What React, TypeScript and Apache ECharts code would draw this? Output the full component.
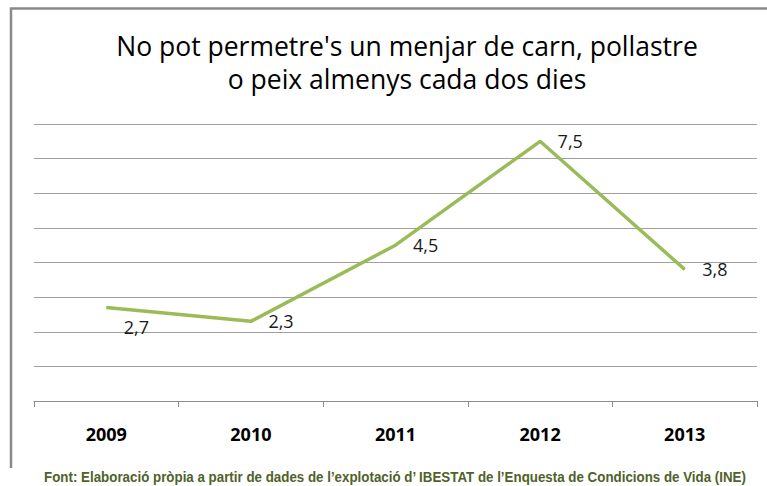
import React, { useEffect, useRef } from "react";
import * as echarts from "echarts";

const years = ["2009", "2010", "2011", "2012", "2013"];
const values = [2.7, 2.3, 4.5, 7.5, 3.8];
const titleLines = ["No pot permetre's un menjar de carn, pollastre", "o peix almenys cada dos dies"];
const footer = "Font: Elaboració pròpia a partir de dades de l’explotació d’ IBESTAT de l’Enquesta de Condicions de Vida (INE)";

export default function App() {
  const ref = useRef<HTMLDivElement>(null);
  useEffect(() => {
    const chart = echarts.init(ref.current!, null, { renderer: "svg" });
    chart.setOption({
      animation: false,
      backgroundColor: "#ffffff",
      title: {
        text: titleLines.join("\n"),
        left: 402,
        textAlign: "center",
        top: 24,
        textStyle: {
          fontFamily: "Open Sans",
          fontWeight: "normal",
          fontSize: 26.5,
          lineHeight: 33,
          color: "#000000",
        },
      },
      grid: { left: 34, right: 10, top: 124, bottom: 85 },
      xAxis: {
        type: "category",
        data: years,
        boundaryGap: true,
        axisLine: { lineStyle: { color: "#8c8c8c", width: 1 } },
        axisTick: { show: true, length: 6, lineStyle: { color: "#8c8c8c" } },
        axisLabel: {
          margin: 24,
          fontFamily: "Open Sans",
          fontWeight: "bold",
          fontSize: 18,
          color: "#000000",
        },
      },
      yAxis: {
        type: "value",
        min: 0,
        max: 8,
        interval: 1,
        axisLine: { show: false },
        axisTick: { show: false },
        axisLabel: { show: false },
        splitLine: { lineStyle: { color: "#a0a0a0", width: 1 } },
      },
      series: [
        {
          type: "line",
          data: values.map((v, i) => ({
            value: v,
            label: i === 0 ? { offset: [0, 19] } : undefined,
          })),
          showSymbol: true,
          symbol: "circle",
          symbolSize: 1,
          itemStyle: { color: "#9bbb59" },
          lineStyle: { color: "#9bbb59", width: 3.5 },
          label: {
            show: true,
            position: "right",
            distance: 17,
            formatter: (p: any) => String(p.value).replace(".", ","),
            fontFamily: "Open Sans",
            fontSize: 18,
            color: "#1a1a1a",
          },
        },
      ],
      graphic: [
        {
          type: "polyline",
          shape: { points: [[11, 468], [11, 8.5], [767, 8.5]] },
          style: { stroke: "#8a8a8a", lineWidth: 2.5, fill: "none" },
        },
        {
          type: "text",
          x: 395,
          y: 477,
          scaleX: 0.89,
          style: {
            text: footer,
            align: "center",
            verticalAlign: "middle",
            fontFamily: "Liberation Sans",
            fontWeight: "bold",
            fontSize: 15,
            fill: "#4f6228",
          },
        },
      ],
    });
    return () => chart.dispose();
  }, []);
  return <div ref={ref} style={{ width: 767, height: 486, position: "absolute", left: 0, top: 0 }} />;
}
